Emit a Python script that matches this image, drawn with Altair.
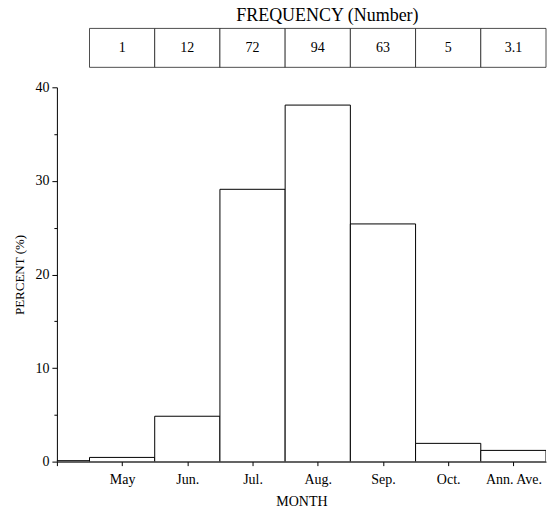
import altair as alt
import pandas as pd

# ---- data ----
months = ["", "May", "Jun.", "Jul.", "Aug.", "Sep.", "Oct.", "Ann. Ave."]
percent = [0.1, 0.45, 4.85, 29.1, 38.1, 25.4, 1.95, 1.2]
freq_months = ["May", "Jun.", "Jul.", "Aug.", "Sep.", "Oct.", "Ann. Ave."]
frequency = ["1", "12", "72", "94", "63", "5", "3.1"]
y_ticks = [0, 5, 10, 15, 20, 25, 30, 35, 40]

bars = pd.DataFrame({"month": months, "pos": list(range(len(months))), "percent": percent})
table = pd.DataFrame({"month": freq_months, "pos": list(range(1, len(freq_months) + 1)),
                      "freq": frequency})

FONT = "Liberation Serif"
W = 490
xscale = alt.Scale(domain=[0, 7.5], nice=False, zero=False)
label_expr = "[" + ",".join("'" + m + "'" for m in months) + "][datum.value]"

base = alt.Chart(bars).transform_calculate(x0="datum.pos - 0.5", x1="datum.pos + 0.5")
main = base.mark_bar(fill="white", stroke="black", strokeWidth=1, clip=True).encode(
    x=alt.X("x0:Q", scale=xscale,
            axis=alt.Axis(values=list(range(len(months))), labelExpr=label_expr,
                          title="MONTH", titleFont=FONT, titleFontSize=14,
                          titleFontWeight="normal", titlePadding=8,
                          labelFont=FONT, labelFontSize=14, labelPadding=7,
                          tickSize=4, labelFlush=False, labelOverlap=False)),
    x2="x1:Q",
    y=alt.Y("percent:Q", scale=alt.Scale(domain=[0, 40], nice=False),
            axis=alt.Axis(values=y_ticks,
                          labelExpr="datum.value % 10 === 0 ? datum.label : ''",
                          tickSize={"condition": {"test": "datum.value % 10 !== 0", "value": 3},
                                    "value": 5},
                          title="PERCENT (%)", titleFont=FONT, titleFontSize=13,
                          titleFontWeight="normal", titlePadding=8,
                          labelFont=FONT, labelFontSize=14, labelPadding=3)),
    y2=alt.datum(0),
).properties(width=W, height=375)

tbase = alt.Chart(table).transform_calculate(
    x0="datum.pos - 0.5", x1="datum.pos + 0.5", y0="0", y1="1", ym="0.5")
cells = tbase.mark_rect(fill="white", stroke="#222", strokeWidth=0.8).encode(
    x=alt.X("x0:Q", scale=xscale, axis=None),
    x2="x1:Q",
    y=alt.Y("y0:Q", scale=alt.Scale(domain=[0, 1]), axis=None),
    y2="y1:Q",
)
texts = tbase.mark_text(font=FONT, fontSize=14, color="black").encode(
    x=alt.X("pos:Q", scale=xscale, axis=None),
    y=alt.Y("ym:Q", scale=alt.Scale(domain=[0, 1]), axis=None),
    text="freq:N",
)
tab = alt.layer(cells, texts).properties(
    width=W, height=39,
    title=alt.TitleParams("FREQUENCY (Number)", font=FONT, fontSize=18,
                          fontWeight="normal", anchor="middle", dx=26, offset=3,
                          color="black"),
)

chart = alt.vconcat(tab, main, spacing=12).properties(
    padding={"left": 14, "top": 6, "right": 0, "bottom": 0}
).configure_view(stroke=None).configure_axis(
    grid=False, domainColor="black", tickColor="black", labelColor="black",
    titleColor="black", domainWidth=1, tickWidth=1)

chart.save("out.html", embed_options={"renderer": "svg", "actions": False})
